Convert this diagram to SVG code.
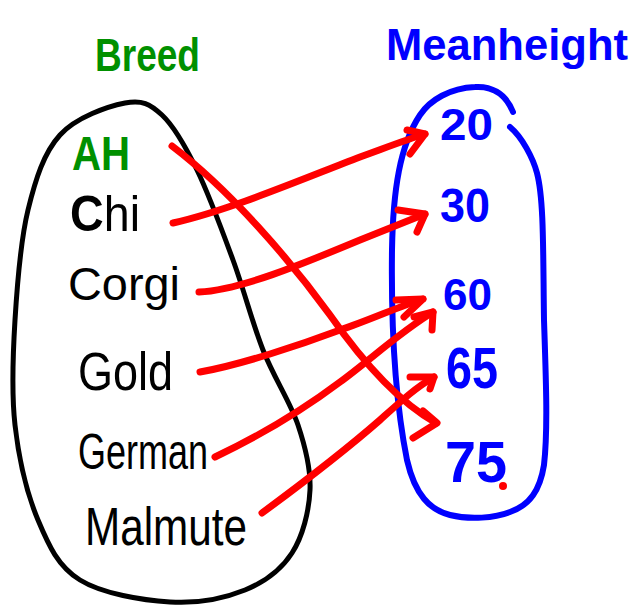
<svg xmlns="http://www.w3.org/2000/svg" width="640" height="606" viewBox="0 0 640 606">
<style>
.hand{font-family:"Liberation Sans","DejaVu Sans",sans-serif;}
.green{fill:#009000;font-weight:bold;}
.blue{fill:#0000ff;font-weight:bold;}
.blk{fill:#000;}
.outline{fill:none;stroke-linecap:round;stroke-linejoin:round;}
.conn{fill:none;stroke:#ff0000;stroke-width:7;stroke-linecap:round;stroke-linejoin:round;}
</style>
<rect width="640" height="606" fill="#fff"/>
<g id="breed-set">
<path class="outline" stroke="#000" stroke-width="5" d="M125,103 C142,99.7 150,103.8 162,115 C174,126.2 185.2,145.8 197,170 C208.8,194.2 222,230 233,260 C244,290 252.2,322.5 263,350 C273.8,377.5 290.2,401.7 298,425 C305.8,448.3 311,468.7 310,490 C309,511.3 302.8,536.3 292,553 C281.2,569.7 265.3,581.8 245,590 C224.7,598.2 197.5,603.7 170,602 C142.5,600.3 102,593.7 80,580 C58,566.3 48.8,545.8 38,520 C27.2,494.2 18.8,458.3 15,425 C11.2,391.7 12.8,355.8 15,320 C17.2,284.2 20.5,240.8 28,210 C35.5,179.2 43.8,152.8 60,135 C76.2,117.2 108,106.3 125,103 Z"/>
<text class="hand green" x="95" y="71" font-size="46" textLength="105" lengthAdjust="spacingAndGlyphs">Breed</text>
</g>
<g id="height-set">
<path class="outline" stroke="#0000ff" stroke-width="6" d="M513,112 C505,92 490,86 475,87 C450,88 430,100 420,115 C400,145 393,190 392,250 C391,330 395,400 407,460 C415,495 430,510 450,515 C470,520 495,518 510,512 C530,505 540,490 544,465 C548,430 546,380 544,320 C543,250 544,200 537,173 C533,158 522,137 510,127"/>
<text class="hand blue" x="386" y="60" font-size="44" textLength="242" lengthAdjust="spacingAndGlyphs">Meanheight</text>
</g>
<g id="n-ah"><text class="hand green" x="72" y="170" font-size="48" textLength="58" lengthAdjust="spacingAndGlyphs">AH</text></g>
<g id="n-chi"><text class="hand blk" x="70" y="231" font-size="50" textLength="70" lengthAdjust="spacingAndGlyphs"><tspan font-weight="bold">C</tspan>hi</text></g>
<g id="n-corgi"><text class="hand blk" x="68" y="300" font-size="46" textLength="112" lengthAdjust="spacingAndGlyphs">Corgi</text></g>
<g id="n-gold"><text class="hand blk" x="78" y="390" font-size="54" textLength="95" lengthAdjust="spacingAndGlyphs">Gold</text></g>
<g id="n-german"><text class="hand blk" x="78" y="469" font-size="50" textLength="130" lengthAdjust="spacingAndGlyphs">German</text></g>
<g id="n-malmute"><text class="hand blk" x="85" y="545" font-size="54" textLength="162" lengthAdjust="spacingAndGlyphs">Malmute</text></g>
<g id="n-20"><text class="hand blue" x="440" y="140" font-size="44" textLength="53" lengthAdjust="spacingAndGlyphs">20</text></g>
<g id="n-30"><text class="hand blue" x="440" y="222" font-size="48" textLength="50" lengthAdjust="spacingAndGlyphs">30</text></g>
<g id="n-60"><text class="hand blue" x="443" y="310" font-size="44" textLength="49" lengthAdjust="spacingAndGlyphs">60</text></g>
<g id="n-65"><text class="hand blue" x="446" y="388" font-size="58" textLength="52" lengthAdjust="spacingAndGlyphs">65</text></g>
<g id="n-75"><text class="hand blue" x="445" y="482" font-size="58" textLength="62" lengthAdjust="spacingAndGlyphs">75</text><circle cx="503" cy="486" r="4" fill="#ff0000"/></g>
<g id="connectors">
<path class="conn" d="M172,146 C230,190 290,260 330,315 C360,358 395,400 436,423"/>
<path class="conn" d="M423,411 L437,423 L413,438"/>
<path class="conn" d="M173,223 C230,210 300,180 360,157 C385,148 405,140 425,134"/>
<path class="conn" d="M407,130 L425,134 L410,154"/>
<path class="conn" d="M199,292 C240,290 300,265 360,240 C385,230 405,222 425,214"/>
<path class="conn" d="M398,210 L425,214 L417,232"/>
<path class="conn" d="M200,372 C240,365 300,345 340,330 C370,320 400,306 423,299"/>
<path class="conn" d="M396,300 L423,299 L404,317"/>
<path class="conn" d="M215,457 C255,438 300,412 340,382 C370,360 400,332 433,312"/>
<path class="conn" d="M414,317 L433,312 L432,330"/>
<path class="conn" d="M262,513 C300,485 340,455 380,420 C400,402 415,388 434,377"/>
<path class="conn" d="M410,377 L434,377 L430,389"/>
</g>
</svg>
